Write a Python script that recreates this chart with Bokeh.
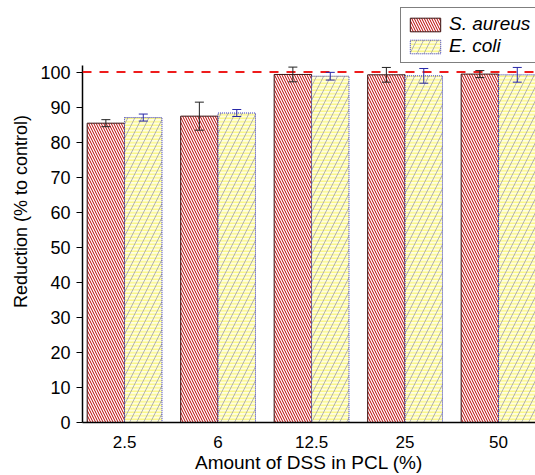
from bokeh.plotting import figure
from bokeh.models import (ColumnDataSource, Whisker, Span, Legend, LegendItem,
                          FixedTicker, Range1d)
from bokeh.embed import file_html
from bokeh.resources import INLINE

categories = ["2.5", "6", "12.5", "25", "50"]
s_aureus = [85.4, 87.4, 99.3, 99.2, 99.4]
s_aureus_err = [1.0, 4.0, 2.1, 2.1, 1.0]
e_coli = [87.0, 88.3, 98.8, 98.9, 99.2]
e_coli_err = [1.0, 1.0, 1.1, 2.1, 2.1]
reference_level = 100
y_axis_top = 101.8

xpos = list(range(1, len(categories) + 1))
src_a = ColumnDataSource(dict(
    x=[v - 0.2 for v in xpos], top=s_aureus,
    lo=[v - e for v, e in zip(s_aureus, s_aureus_err)],
    hi=[v + e for v, e in zip(s_aureus, s_aureus_err)]))
src_e = ColumnDataSource(dict(
    x=[v + 0.2 for v in xpos], top=e_coli,
    lo=[v - e for v, e in zip(e_coli, e_coli_err)],
    hi=[v + e for v, e in zip(e_coli, e_coli_err)]))

FONT = "Liberation Sans"

p = figure(width=535, height=475, output_backend="svg", toolbar_location=None,
           x_range=Range1d(0.55, 5.395), y_range=Range1d(0, 120.4),
           min_border_left=82, min_border_right=0, min_border_top=0,
           min_border_bottom=52)
p.outline_line_color = None
p.grid.visible = False

ra = p.vbar(x="x", top="top", width=0.4, bottom=0, source=src_a,
            fill_color="white", line_color="#3a1010", line_width=1,
            hatch_pattern="left_diagonal_line", hatch_color="#b80000",
            hatch_scale=5, hatch_weight=1.0)
re1 = p.vbar(x="x", top="top", width=0.4, bottom=0, source=src_e,
             fill_color="#fffee0", line_color=None,
             hatch_pattern="horizontal_line", hatch_color="#f8f460",
             hatch_scale=3.5, hatch_weight=1)
re2 = p.vbar(x="x", top="top", width=0.4, bottom=0, source=src_e,
             fill_color=None, line_color="#3030c0", line_width=1,
             line_dash="1 1",
             hatch_pattern="right_diagonal_line", hatch_color="#9090a8",
             hatch_scale=14, hatch_weight=0.7)

wa = Whisker(source=src_a, base="x", lower="lo", upper="hi",
             line_color="#222222", line_width=1, level="overlay")
we = Whisker(source=src_e, base="x", lower="lo", upper="hi",
             line_color="#2828a8", line_width=1, level="overlay")
for w, c in ((wa, "#222222"), (we, "#2828a8")):
    w.upper_head.size = 9
    w.lower_head.size = 9
    w.upper_head.line_color = c
    w.lower_head.line_color = c
    p.add_layout(w)

p.add_layout(Span(location=reference_level, dimension="width",
                  line_color="#ee1c1c", line_width=2, line_dash="9 8"))

p.xaxis.ticker = FixedTicker(ticks=xpos)
p.xaxis.major_label_overrides = {x: c for x, c in zip(xpos, categories)}
p.xaxis.major_tick_line_color = None
p.xaxis.minor_tick_line_color = None
p.xaxis.axis_label = "Amount of DSS in PCL (%)"
p.yaxis.ticker = FixedTicker(ticks=list(range(0, 101, 10)))
p.yaxis.bounds = (0, y_axis_top)
p.yaxis.minor_tick_line_color = None
p.yaxis.major_tick_out = 6
p.yaxis.major_tick_in = 0
p.yaxis.major_tick_line_color = "black"
p.yaxis.axis_label = "Reduction (% to control)"
for ax in (p.xaxis[0], p.yaxis[0]):
    ax.axis_line_color = "black"
    ax.axis_line_width = 1.5
    ax.major_label_text_font = FONT
    ax.major_label_text_color = "black"
    ax.axis_label_text_font = FONT
    ax.axis_label_text_font_style = "normal"
    ax.axis_label_text_color = "black"
p.xaxis.major_label_text_font_size = "17px"
p.yaxis.major_label_text_font_size = "18px"
p.xaxis.axis_label_text_font_size = "19px"
p.yaxis.axis_label_text_font_size = "18px"
p.xaxis.major_label_standoff = 7
p.yaxis.major_label_standoff = 6
p.xaxis.axis_label_standoff = 1
p.yaxis.axis_label_standoff = 6

legend = Legend(items=[LegendItem(label="S. aureus", renderers=[ra]),
                       LegendItem(label="E. coli", renderers=[re1, re2])],
                location=(318, 359), orientation="vertical",
                label_text_font=FONT, label_text_font_size="19px",
                label_text_font_style="italic", label_text_color="black",
                glyph_width=38, glyph_height=17, label_height=19,
                spacing=0, padding=5, margin=0, label_standoff=5,
                border_line_color="black", border_line_width=1,
                background_fill_color="white", background_fill_alpha=1)
p.add_layout(legend, "center")

open("out.html", "w").write(file_html(p, INLINE))
